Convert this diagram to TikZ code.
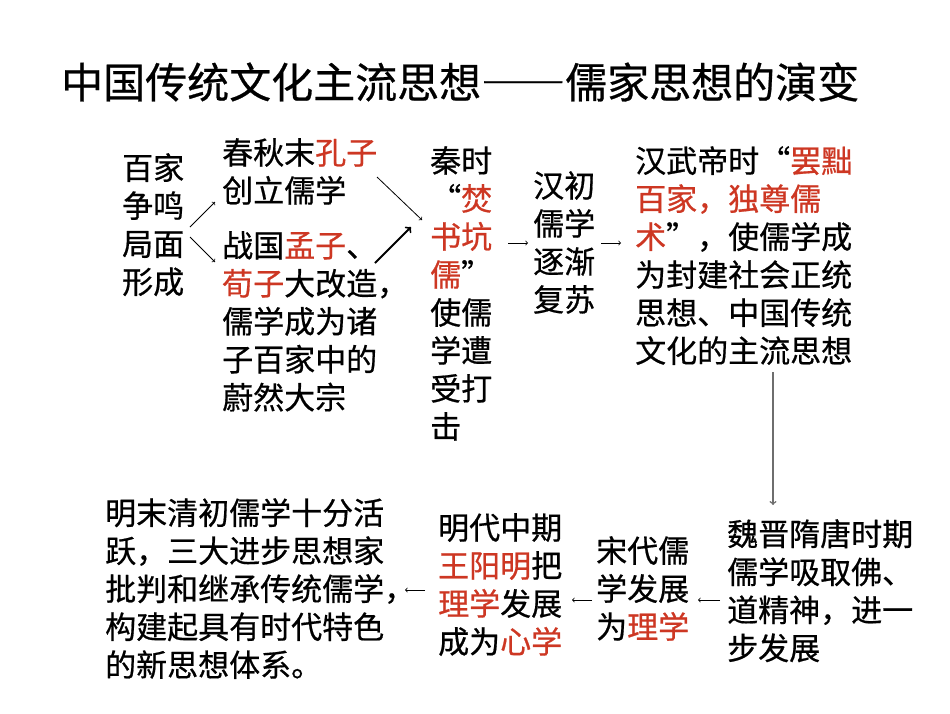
\documentclass[tikz,border=0pt]{standalone}
\usepackage{fontspec}
\newfontfamily\cjk[CharacterWidth=Full,FakeBold=0.6]{Noto Sans CJK SC}
\definecolor{hong}{RGB}{205,55,35}
\definecolor{huise}{RGB}{110,110,110}
\newcommand{\hongzi}[1]{\textcolor{hong}{#1}}
\begin{document}
\begin{tikzpicture}[x=1pt,y=-1pt,
	txt/.style={anchor=north west,inner sep=0pt,align=left,font=\cjk\fontsize{31}{38}\selectfont},
	jian/.style={->,line width=0.8pt},
	cujian/.style={->,line width=2pt}]
	\useasboundingbox (0,0) rectangle (950,713);
	\node[anchor=west,inner sep=0pt,font=\cjk\fontsize{42}{42}\selectfont] (title) at (61,82) {中国传统文化主流思想——儒家思想的演变};
	% upper row
	\node[txt] (bj) at (122,153) {百家\\争鸣\\局面\\形成};
	\node[txt] (cq) at (222,138) {春秋末\hongzi{孔子}\\创立儒学};
	\node[txt] (zg) at (222,231) {战国\hongzi{孟子}、\\\hongzi{荀子}大改造，\\儒学成为诸\\子百家中的\\蔚然大宗};
	\node[txt] (qin) at (430,146) {秦时\\“\hongzi{焚}\\\hongzi{书坑}\\\hongzi{儒}”\\使儒\\学遭\\受打\\击};
	\node[txt] (hc) at (533,171) {汉初\\儒学\\逐渐\\复苏};
	\node[txt] (hw) at (635,146) {汉武帝时“\hongzi{罢黜}\\\hongzi{百家，独尊儒}\\\hongzi{术}”，使儒学成\\为封建社会正统\\思想、中国传统\\文化的主流思想};
	% lower row
	\node[txt] (wj) at (727,519) {魏晋隋唐时期\\儒学吸取佛、\\道精神，进一\\步发展};
	\node[txt] (sd) at (596,536) {宋代儒\\学发展\\为\hongzi{理学}};
	\node[txt] (mz) at (438,513) {明代中期\\\hongzi{王阳明}把\\\hongzi{理学}发展\\成为\hongzi{心学}};
	\node[txt] (mm) at (105,498) {明末清初儒学十分活\\跃，三大进步思想家\\批判和继承传统儒学，\\构建起具有时代特色\\的新思想体系。};
	% arrows
	\draw[jian] ([shift={(68,74)}]bj.north west) -- ([shift={(-7,64)}]cq.north west);
	\draw[jian] ([shift={(68,84)}]bj.north west) -- ([shift={(-7,31)}]zg.north west);
	\draw[jian] ([shift={(155,39)}]cq.north west) -- ([shift={(-8,74)}]qin.north west);
	\draw[cujian] ([shift={(153,32)}]zg.north west) -- ([shift={(-19,81)}]qin.north west);
	\draw[jian] ([shift={(78,97)}]qin.north west) -- ([shift={(-5,72)}]hc.north west);
	\draw[jian] ([shift={(68,72)}]hc.north west) -- ([shift={(-14,97)}]hw.north west);
	\draw[jian,huise,line width=1.5pt] ([shift={(138,226)}]hw.north west) -- ([shift={(46,-14)}]wj.north west);
	\draw[jian] ([shift={(-7,81)}]wj.north west) -- ([shift={(102,64)}]sd.north west);
	\draw[jian] ([shift={(-4,64)}]sd.north west) -- ([shift={(134,87)}]mz.north west);
	\draw[jian] ([shift={(-13,77)}]mz.north west) -- ([shift={(300,92)}]mm.north west);
\end{tikzpicture}
\end{document}
